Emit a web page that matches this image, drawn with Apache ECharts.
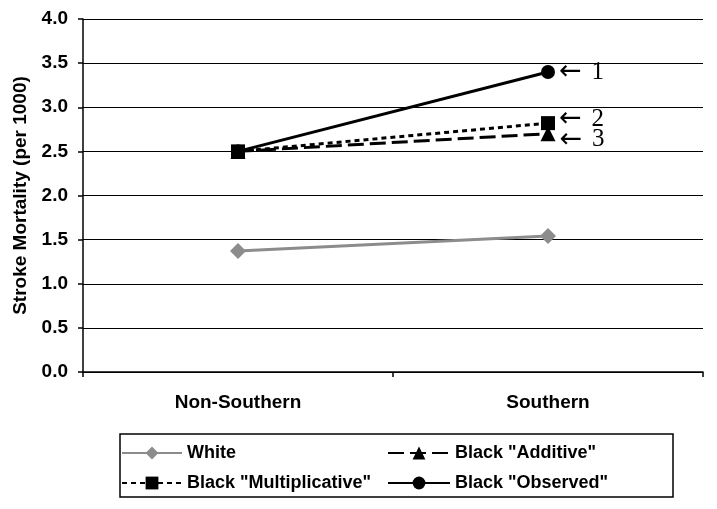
<!DOCTYPE html>
<html><head><meta charset="utf-8">
<script src="https://cdn.jsdelivr.net/npm/echarts@6/dist/echarts.min.js"></script>
<style>html,body{margin:0;padding:0;background:#fff}#c{width:717px;height:509px}</style>
</head><body><div id="c"></div>
<script>
const categories = ['Non-Southern', 'Southern'];
const white = [1.37, 1.54];
const blackAdditive = [2.50, 2.70];
const blackMultiplicative = [2.50, 2.82];
const blackObserved = [2.50, 3.40];
const annotations = {obs: '1', mult: '2', add: '3'};
const yTicks = {min: 0, max: 4, interval: 0.5};

const chart = echarts.init(document.getElementById('c'), null, {renderer: 'canvas'});
const F = 'Liberation Sans, Arial, sans-serif';
function lastLabel(txt, dy) {
  return {show: true, position: 'right', distance: 4, offset: [0, dy || 0],
    formatter: p => p.dataIndex === 1 ? '{a|←}{n|' + txt + '}' : '',
    rich: {
      a: {fontFamily: 'DejaVu Sans, sans-serif', fontSize: 27, color: '#000'},
      n: {fontFamily: 'Liberation Serif, Times New Roman, serif', fontSize: 25, color: '#000', padding: [0, 0, 0, 10]}
    }};
}
chart.setOption({
  animation: false,
  backgroundColor: '#fff',
  grid: {left: 83, right: 14, top: 19, bottom: 137, containLabel: false},
  xAxis: {type: 'category', data: categories, boundaryGap: true,
    axisLine: {lineStyle: {color: '#000', width: 1.5}},
    axisTick: {show: true, length: 5, lineStyle: {color: '#000', width: 1.5}},
    axisLabel: {fontFamily: F, fontWeight: 'bold', fontSize: 19, color: '#000', margin: 21}},
  yAxis: {type: 'value', min: yTicks.min, max: yTicks.max, interval: yTicks.interval,
    name: 'Stroke Mortality (per 1000)', nameLocation: 'middle', nameGap: 50,
    nameTextStyle: {fontFamily: F, fontWeight: 'bold', fontSize: 19, color: '#000'},
    axisLine: {show: true, lineStyle: {color: '#000', width: 1.5}},
    axisTick: {show: true, length: 5, lineStyle: {color: '#000', width: 1.5}},
    splitLine: {lineStyle: {color: '#000', width: 1.2}},
    axisLabel: {fontFamily: F, fontWeight: 'bold', fontSize: 19, color: '#000', margin: 15,
      formatter: v => v.toFixed(1)}},
  legend: [
    {left: 116, top: 439, orient: 'vertical', itemWidth: 60, itemHeight: 16, itemGap: 12,
     data: ['White', 'Black "Multiplicative"'],
     textStyle: {fontFamily: F, fontWeight: 'bold', fontSize: 18, color: '#000'}},
    {left: 382, top: 439, orient: 'vertical', itemWidth: 62, itemHeight: 16, itemGap: 12,
     data: ['Black "Additive"', 'Black "Observed"'],
     textStyle: {fontFamily: F, fontWeight: 'bold', fontSize: 18, color: '#000'}}
  ],
  graphic: [{type: 'rect', shape: {x: 120, y: 434, width: 553, height: 63},
    style: {fill: 'none', stroke: '#000', lineWidth: 1.5}, silent: true}],
  series: [
    {name: 'White', type: 'line', data: white, symbol: 'diamond', symbolSize: 16,
     color: '#8c8c8c', lineStyle: {color: '#8c8c8c', width: 3}, itemStyle: {color: '#8c8c8c'}, z: 2},
    {name: 'Black "Additive"', type: 'line', data: blackAdditive, symbol: 'triangle', symbolSize: 15,
     color: '#000', lineStyle: {color: '#000', width: 3, type: [16, 6]}, itemStyle: {color: '#000'},
     label: lastLabel(annotations.add, 6), z: 3},
    {name: 'Black "Observed"', type: 'line', data: blackObserved, symbol: 'circle', symbolSize: 14,
     color: '#000', lineStyle: {color: '#000', width: 3}, itemStyle: {color: '#000'},
     label: lastLabel(annotations.obs, 0), z: 4},
    {name: 'Black "Multiplicative"', type: 'line', data: blackMultiplicative, symbol: 'rect', symbolSize: 14,
     color: '#000', lineStyle: {color: '#000', width: 3, type: [5, 4]}, itemStyle: {color: '#000'},
     label: lastLabel(annotations.mult, -4), z: 5}
  ]
});
</script></body></html>
